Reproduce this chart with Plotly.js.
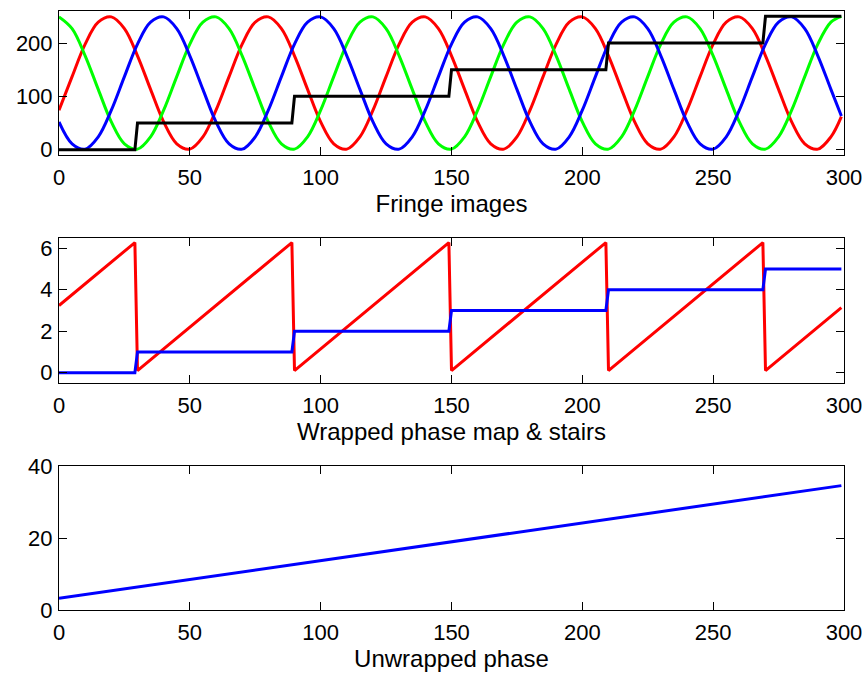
<!DOCTYPE html>
<html>
<head>
<meta charset="utf-8">
<script src="https://cdn.plot.ly/plotly-3.0.1.min.js"></script>
<style>html,body{margin:0;padding:0;background:#fff;}#plot{width:866px;height:673px;}</style>
</head>
<body>
<div id="plot"></div>
<script>
// ---- Data ----
// Fringe images (sampled every 5 units, last sample at 299)
const fringeX = [0,5,10,15,20,25,30,35,40,45,50,55,60,65,70,75,80,85,90,95,100,105,110,115,120,125,130,135,140,145,150,155,160,165,170,175,180,185,190,195,200,205,210,215,220,225,230,235,240,245,250,255,260,265,270,275,280,285,290,295,299];
const fringeRed = [74,137,198,239,249,227,176,113,52,11,1,24, 74,137,198,239,249,227,176,113,52,11,1,24, 74,137,198,239,249,227,176,113,52,11,1,24, 74,137,198,239,249,227,176,113,52,11,1,24, 74,137,198,239,249,227,176,113,52,11,1,24, 62];
const fringeGreen = [249,227,176,113,52,11,1,24,74,137,198,239, 249,227,176,113,52,11,1,24,74,137,198,239, 249,227,176,113,52,11,1,24,74,137,198,239, 249,227,176,113,52,11,1,24,74,137,198,239, 249,227,176,113,52,11,1,24,74,137,198,239, 250];
const fringeBlue = [52,11,1,24,74,137,198,239,249,227,176,113, 52,11,1,24,74,137,198,239,249,227,176,113, 52,11,1,24,74,137,198,239,249,227,176,113, 52,11,1,24,74,137,198,239,249,227,176,113, 52,11,1,24,74,137,198,239,249,227,176,113, 63];

// Stair / wrap breakpoints
const stepX = [0,29,30,89,90,149,150,209,210,269,270,299];
const fringeStairs = [0,0,50,50,100,100,150,150,200,200,250,250];
const wrappedPhase = [3.24,6.28,0.10,6.28,0.10,6.28,0.10,6.28,0.10,6.28,0.10,3.14];
const stairs = [0,0,1,1,2,2,3,3,4,4,5,5];

// Unwrapped phase
const unwrapX = [0,299];
const unwrapY = [3.24,34.55];

// Ticks and labels
const xTicks = [0,50,100,150,200,250,300];
const y1Ticks = [0,100,200];
const y2Ticks = [0,2,4,6];
const y3Ticks = [0,20,40];
const xTitles = ['Fringe images','Wrapped phase map & stairs','Unwrapped phase'];

// ---- Plot ----
const FONT = 'Liberation Sans, Arial, Helvetica, sans-serif';
const LW = 3;
const traces = [
  {x: fringeX, y: fringeRed, xaxis:'x', yaxis:'y', mode:'lines', line:{color:'#ff0000', width:LW, shape:'spline'}},
  {x: fringeX, y: fringeGreen, xaxis:'x', yaxis:'y', mode:'lines', line:{color:'#00ff00', width:LW, shape:'spline'}},
  {x: fringeX, y: fringeBlue, xaxis:'x', yaxis:'y', mode:'lines', line:{color:'#0000ff', width:LW, shape:'spline'}},
  {x: stepX, y: fringeStairs, xaxis:'x', yaxis:'y', mode:'lines', line:{color:'#000000', width:LW}},
  {x: stepX, y: wrappedPhase, xaxis:'x2', yaxis:'y2', mode:'lines', line:{color:'#ff0000', width:LW}},
  {x: stepX, y: stairs, xaxis:'x2', yaxis:'y2', mode:'lines', line:{color:'#0000ff', width:LW}},
  {x: unwrapX, y: unwrapY, xaxis:'x3', yaxis:'y3', mode:'lines', line:{color:'#0000ff', width:LW}}
];

function axBase(extra){
  return Object.assign({
    showline:true, linecolor:'#000', linewidth:1, mirror:'ticks',
    ticks:'inside', ticklen:8, tickwidth:1, tickcolor:'#000',
    showgrid:false, zeroline:false, automargin:false,
    tickfont:{family:FONT, size:22, color:'#000'}
  }, extra);
}
function xAx(anchor, title){
  return axBase({anchor:anchor, range:[0,300], tickmode:'array', tickvals:xTicks,
    ticktext: xTicks.map(String), ticklabelstandoff:3,
    title:{text:title, font:{family:FONT, size:24, color:'#000'}, standoff:5}});
}
const H = 673, T = 11, B = 63, plotH = H - T - B;
function dom(top, bottom){ return [(H - B - bottom)/plotH, (H - B - top)/plotH]; }

const layout = {
  width:866, height:673,
  margin:{l:59, r:22, t:T, b:B},
  paper_bgcolor:'#fff', plot_bgcolor:'#fff',
  showlegend:false,
  xaxis: xAx('y', xTitles[0]),
  xaxis2: xAx('y2', xTitles[1]),
  xaxis3: xAx('y3', xTitles[2]),
  yaxis: axBase({anchor:'x', domain:dom(11,155), range:[-10,260], tickmode:'array', tickvals:y1Ticks, ticklabelstandoff:1}),
  yaxis2: axBase({anchor:'x2', domain:dom(238,383), range:[-0.5,6.5], tickmode:'array', tickvals:y2Ticks, ticklabelstandoff:1}),
  yaxis3: axBase({anchor:'x3', domain:dom(466,610), range:[0,40], tickmode:'array', tickvals:y3Ticks, ticklabelstandoff:1})
};
Plotly.newPlot('plot', traces, layout, {staticPlot:true, displayModeBar:false});
</script>
</body>
</html>
